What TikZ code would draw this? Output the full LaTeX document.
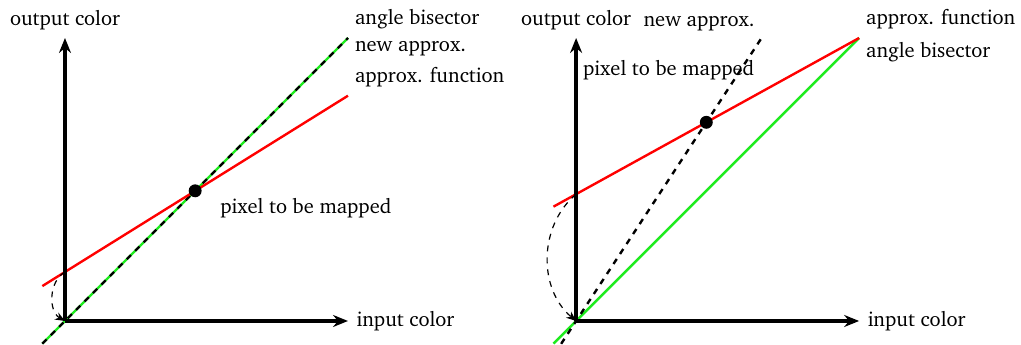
\documentclass[tikz,border=0pt]{standalone}
\usepackage[T1]{fontenc}
\usepackage{charter}
\usetikzlibrary{arrows.meta,calc}
\definecolor{bisectgreen}{RGB}{30,235,30}

\begin{document}
\begin{tikzpicture}[
        every node/.style={font=\fontsize{10.3pt}{12pt}\selectfont},
        axisline/.style={line width=2pt, -{Stealth[length=7.5pt,width=6pt]}},
        approxline/.style={red, line width=1.2pt},
        bisectline/.style={bisectgreen, line width=1.2pt},
        newline/.style={black, line width=1.2pt, dashed},
        mapping/.style={dashed, semithick, -{Stealth[length=5pt,width=4pt]}},
        dotpix/.style={circle, fill=black, inner sep=0pt, minimum size=6.5pt}
    ]
    \useasboundingbox (-1.148,-0.424) rectangle (16.89,5.671);

    % left: approximation through the pixel
    \coordinate (O1) at (0,0);
    \coordinate (Y1) at (0,5);
    \coordinate (X1) at (5,0);
    \coordinate (B1a) at (-0.4,-0.4);
    \coordinate (B1b) at (5,5);
    \coordinate (R1a) at (-0.4,0.617);
    \coordinate (R1b) at (5,3.98);
    \coordinate (I1) at (0,0.866);
    \draw[bisectline] (B1a) -- (B1b);
    \draw[newline] (B1a) -- (B1b);
    \draw[approxline] (R1a) -- (R1b);
    \draw[axisline] (O1) -- (Y1) node[above] {output color};
    \draw[axisline] (O1) -- (X1) node[right] {input color};
    \draw[mapping] (I1) to[bend right=60] (O1);
    \node[dotpix] (P1) at (2.3,2.3) {};
    \node[right] (L1p) at (2.62,2.0) {pixel to be mapped};
    \node[right] (L1b) at (5,5.34) {angle bisector};
    \node[right] (L1n) at (5,4.82) {new approx.};
    \node[right] (L1a) at (5,4.31) {approx. function};

    % right: approximation mapped to the origin
    \begin{scope}[xshift=9.03cm]
        \coordinate (O2) at (0,0);
        \coordinate (Y2) at (0,5);
        \coordinate (X2) at (5,0);
        \coordinate (B2a) at (-0.4,-0.4);
        \coordinate (B2b) at (5,5);
        \coordinate (R2a) at (-0.4,2.02);
        \coordinate (R2b) at (5,5);
        \coordinate (I2) at (0,2.24);
        \coordinate (P2c) at (2.3,3.51);
        \coordinate (N2a) at ($(O2)!-0.115!(P2c)$);
        \coordinate (N2b) at ($(O2)!1.425!(P2c)$);
        \draw[bisectline] (B2a) -- (B2b);
        \draw[approxline] (R2a) -- (R2b);
        \draw[newline] (N2a) -- (N2b);
        \draw[axisline] (O2) -- (Y2) node[above] {output color};
        \draw[axisline] (O2) -- (X2) node[right] {input color};
        \draw[mapping] (I2) to[bend right=50] (O2);
        \node[dotpix] (P2) at (P2c) {};
        \node[anchor=south east] (L2n) at (N2b) {new approx.};
        \node[right] (L2p) at (0,4.43) {pixel to be mapped};
        \node[right] (L2a) at (5,5.34) {approx. function};
        \node[right] (L2b) at (5,4.75) {angle bisector};
    \end{scope}
\end{tikzpicture}
\end{document}
